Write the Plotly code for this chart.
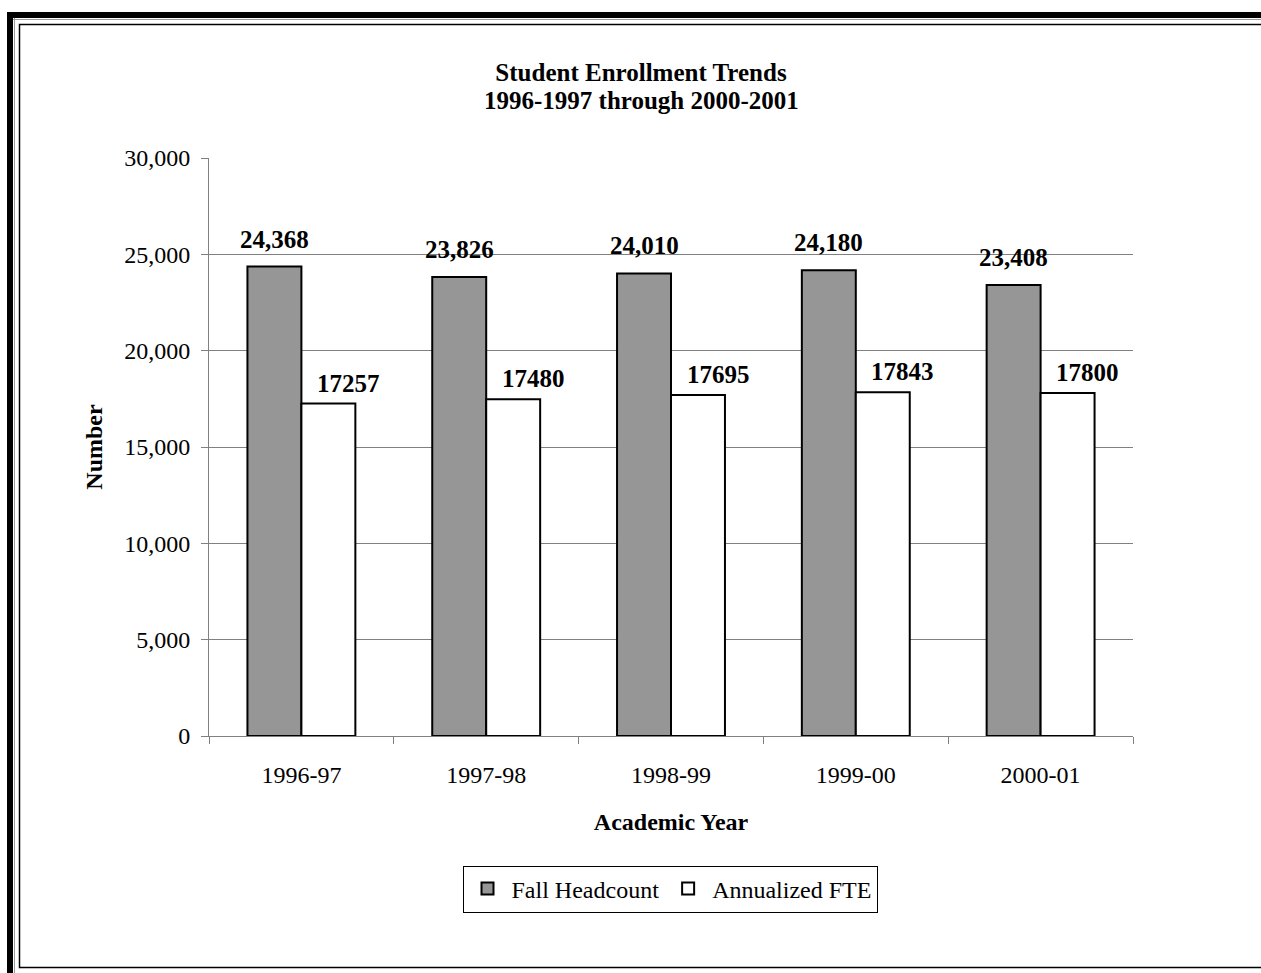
import plotly.graph_objects as go

years = ["1996-97", "1997-98", "1998-99", "1999-00", "2000-01"]
headcount = [24368, 23826, 24010, 24180, 23408]
fte = [17257, 17480, 17695, 17843, 17800]
y_ticks = [0, 5000, 10000, 15000, 20000, 25000, 30000]

W, H = 1261, 973
L, R, T, B = 209, 1133, 158, 736
FONT = "Liberation Serif, Times New Roman, serif"


def fx(px):
    return (px - L) / (R - L)


def fy(py):
    return (B - py) / (B - T)


fig = go.Figure()
fig.add_trace(go.Bar(
    name="Fall Headcount", x=years, y=headcount,
    marker=dict(color="#969696", line=dict(color="black", width=2)),
))
fig.add_trace(go.Bar(
    name="Annualized FTE", x=years, y=fte,
    marker=dict(color="white", line=dict(color="black", width=2)),
))

annotations = []
for yr, v in zip(years, headcount):
    annotations.append(dict(
        x=yr, y=v, xref="x", yref="y", text=f"{v:,}", showarrow=False,
        xshift=-27, yshift=12, yanchor="bottom",
        font=dict(family=FONT, size=25, color="black", weight="bold"),
    ))
for yr, v in zip(years, fte):
    annotations.append(dict(
        x=yr, y=v, xref="x", yref="y", text=f"{v}", showarrow=False,
        xshift=47, yshift=5, yanchor="bottom",
        font=dict(family=FONT, size=25, color="black", weight="bold"),
    ))
# second title line
annotations.append(dict(
    x=641 / W, y=1 - 101 / H, xref="paper", yref="paper", showarrow=False,
    text="<b>1996-1997 through 2000-2001</b>", xanchor="center", yanchor="middle",
    font=dict(family=FONT, size=25, color="black"),
))
annotations[-1]["x"] = fx(641)
annotations[-1]["y"] = fy(101)

shapes = [
    dict(type="rect", xref="paper", yref="paper", x0=fx(7), x1=fx(13), y0=fy(12), y1=fy(980),
         fillcolor="black", line=dict(width=0), layer="above"),
    dict(type="rect", xref="paper", yref="paper", x0=fx(7), x1=fx(1270), y0=fy(12), y1=fy(18),
         fillcolor="black", line=dict(width=0), layer="above"),
    dict(type="line", xref="paper", yref="paper", x0=fx(14.5), x1=fx(14.5), y0=fy(18), y1=fy(980),
         line=dict(color="#9a9a9a", width=1)),
    dict(type="line", xref="paper", yref="paper", x0=fx(13), x1=fx(1270), y0=fy(19.5), y1=fy(19.5),
         line=dict(color="#9a9a9a", width=1)),
    dict(type="rect", xref="paper", yref="paper", x0=fx(19.5), x1=fx(1275), y0=fy(24.5), y1=fy(967.5),
         line=dict(color="black", width=1.5), fillcolor="rgba(0,0,0,0)"),
]

fig.update_layout(
    template="none",
    width=W, height=H,
    margin=dict(l=L, r=W - R, t=T, b=H - B, pad=0),
    paper_bgcolor="white", plot_bgcolor="white",
    font=dict(family=FONT, size=24, color="black"),
    barmode="group", bargap=0.416, bargroupgap=0,
    title=dict(
        text="<b>Student Enrollment Trends</b>",
        x=641 / W, xref="container", xanchor="center",
        y=1 - 72 / H, yref="container", yanchor="middle",
        font=dict(family=FONT, size=25, color="black"),
    ),
    xaxis=dict(
        type="category",
        showline=True, linecolor="#808080", linewidth=1,
        ticks="outside", tickson="boundaries", ticklen=7, tickcolor="#808080",
        ticklabelstandoff=17,
        showgrid=False, automargin=False,
        tickfont=dict(family=FONT, size=24),
        title=dict(text="<b>Academic Year</b>", standoff=26,
                   font=dict(family=FONT, size=24)),
    ),
    yaxis=dict(
        range=[0, 30000], tickvals=y_ticks, tickformat=",",
        showline=True, linecolor="#808080", linewidth=1,
        ticks="outside", ticklen=7, tickcolor="#808080",
        ticklabelstandoff=6,
        showgrid=True, gridcolor="#808080", gridwidth=1,
        zeroline=False, automargin=False,
        tickfont=dict(family=FONT, size=24),
        title=dict(text="<b>Number</b>", standoff=14,
                   font=dict(family=FONT, size=24)),
    ),
    legend=dict(
        orientation="h", x=fx(670), xanchor="center", y=fy(889), yanchor="middle",
        bordercolor="black", borderwidth=1, bgcolor="white", itemwidth=38,
        font=dict(family=FONT, size=24), traceorder="normal",
    ),
    annotations=annotations,
    shapes=shapes,
)

fig.write_html(
    "out.html",
    config={"displayModeBar": False},
    post_script="document.body.style.margin='0';"
                "document.documentElement.style.overflow='hidden';"
                "document.body.style.overflow='hidden';",
)
